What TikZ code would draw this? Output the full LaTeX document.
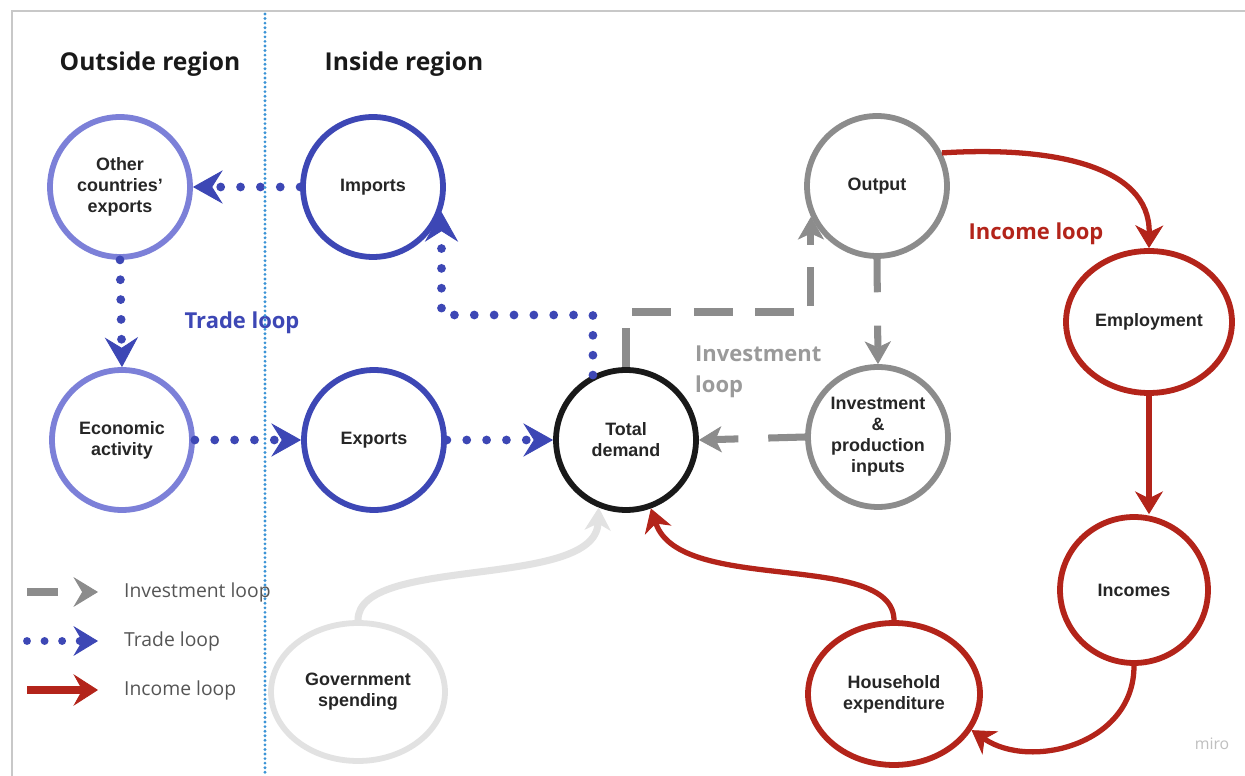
\documentclass[tikz,border=0pt]{standalone}
\usepackage{fontspec}
\setmainfont{Liberation Sans}
\newfontfamily\osans{Open Sans}
\usetikzlibrary{shapes.geometric,arrows.meta,calc}
\definecolor{tblue}{HTML}{3D47B5}
\definecolor{tpurple}{HTML}{7C80D8}
\definecolor{tgray}{HTML}{8C8C8C}
\definecolor{tred}{HTML}{B3241A}
\definecolor{tgov}{HTML}{E2E2E2}
\definecolor{tdiv}{HTML}{3A93D6}
\definecolor{tframe}{HTML}{C8C8C8}
\definecolor{tlab}{HTML}{9A9A9A}
\definecolor{tleg}{HTML}{555555}
\begin{document}
\begin{tikzpicture}[x=0.02cm,y=-0.02cm,
  nodebox/.style={ellipse,draw,line width=3.3pt,align=center,inner sep=0pt,
    font=\bfseries\fontsize{10.2}{12}\selectfont,text=black!85},
  circ/.style={nodebox,minimum width=2.8cm,minimum height=2.8cm},
  trade/.style={draw=tblue,line width=5pt,line cap=round,dash pattern=on 0pt off 11.3pt,
    -{Stealth[length=17pt,width=19pt,inset=6pt,line width=0.5pt]}},
  invl/.style={draw=tgray,line width=4pt,
    -{Stealth[length=13pt,width=15pt,inset=3.5pt,line width=0.5pt]}},
  incl/.style={draw=tred,line width=3pt,
    -{Stealth[length=13pt,width=16pt,inset=4pt,line width=0.5pt]}},
  govl/.style={draw=tgov,line width=4pt,
    -{Stealth[length=13pt,width=15pt,inset=4pt,line width=0.5pt]}},
  head/.style={font=\osans\bfseries\fontsize{14}{16}\selectfont,text=black!90},
  looplab/.style={font=\osans\bfseries\fontsize{12.5}{17.6}\selectfont},
  legtxt/.style={anchor=west,font=\osans\fontsize{11}{13}\selectfont,text=tleg}]
\useasboundingbox (0,0) rectangle (1245,776);
\fill[white] (0,0) rectangle (1245,776);
% frame
\draw[tframe,line width=1.2pt] (1245,11) -- (12,11) -- (12,776);
% headings
\node[head] (hout) at (150,64) {Outside region};
\node[head] (hin) at (404,64) {Inside region};
% nodes
\node[circ,draw=tpurple] (oth) at (120,187) {Other\\countries'\\exports};
\node[circ,draw=tblue] (imp) at (373,187) {Imports};
\node[circ,draw=tpurple] (eco) at (122,440) {Economic\\activity};
\node[circ,draw=tblue] (exp) at (374,440) {Exports};
\node[circ,draw=black!90] (td) at (626,440) {Total\\demand};
\node[circ,draw=tgray] (out) at (877,186) {Output};
\node[circ,draw=tgray] (inv) at (878,437) {Investment\\\&\\production\\inputs};
\node[nodebox,draw=tred,minimum width=3.32cm,minimum height=2.84cm] (emp) at (1149,322) {Employment};
\node[nodebox,draw=tred,minimum width=2.96cm,minimum height=2.92cm] (inc) at (1134,590) {Incomes};
\node[nodebox,draw=tred,minimum width=3.44cm,minimum height=2.84cm] (hh) at (894,694) {Household\\expenditure};
\node[nodebox,draw=tgov,minimum width=3.48cm,minimum height=2.76cm] (gov) at (358,692) {Government\\spending};
% labels
\node[looplab,text=tblue] (ltrade) at (242,323) {Trade loop};
\node[looplab,text=tred] (linc) at (1036,234) {Income loop};
\node[looplab,text=tlab,anchor=west,align=left] (linv) at (689,372) {Investment\\loop};
\node[font=\osans\fontsize{9}{11}\selectfont,text=black!25] (miro) at (1212,744) {miro};
% trade loop
\draw[trade] (imp.west) -- (oth.east);
\draw[trade] (oth.south) -- (eco.north);
\draw[trade] (eco.east) -- (exp.west);
\draw[trade] (exp.east) -- (td.west);
\draw[trade] (td.117) -- (td.117 |- 0,315) -| (imp.-20);
% investment loop
\draw[invl,dash pattern=on 22pt off 13pt] (td.north) -- (td.north |- 0,312) -| (out.-155);
\draw[invl,dash pattern=on 19pt off 19pt] (out.south) -- (inv.north);
\draw[invl,dash pattern=on 21pt off 17pt] (inv.west) -- (td.east);
% income loop
\draw[incl] (out.27) .. controls (1050,146) and (1150,165) .. (emp.north);
\draw[incl] (emp.south) -- (emp.south |- inc.north);
\draw[incl] (inc.south) .. controls (1134,745) and (1030,770) .. (hh.-25);
\draw[incl] (hh.north) .. controls (893,550) and (680,595) .. (td.-70);
% government
\draw[govl] (gov.north) .. controls (358,555) and (595,590) .. (td.-112);
% divider
\draw[tdiv,line width=1.8pt,line cap=round,dash pattern=on 0pt off 2.6pt] (265,14) -- (265,776);
% legend
\coordinate (li1) at (27,592); \coordinate (li2) at (98,592);
\coordinate (lt1) at (27,641); \coordinate (lt2) at (98,641);
\coordinate (lc1) at (27,690); \coordinate (lc2) at (98,690);
\draw[draw=tgray,line width=4pt,dash pattern=on 17.5pt off 20pt,
  -{Stealth[length=14pt,width=17pt,inset=5pt,line width=0.5pt]}] (li1) -- (li2);
\draw[draw=tblue,line width=4.5pt,line cap=round,dash pattern=on 0pt off 10pt,
  -{Stealth[length=14pt,width=17pt,inset=5pt,line width=0.5pt]}] (lt1) -- (lt2);
\draw[draw=tred,line width=4.5pt,
  -{Stealth[length=14pt,width=18pt,inset=5pt,line width=0.5pt]}] (lc1) -- (lc2);
\node[legtxt] (lit) at (118,592) {Investment loop};
\node[legtxt] (ltt) at (118,641) {Trade loop};
\node[legtxt] (lct) at (118,690) {Income loop};
\end{tikzpicture}
\end{document}
